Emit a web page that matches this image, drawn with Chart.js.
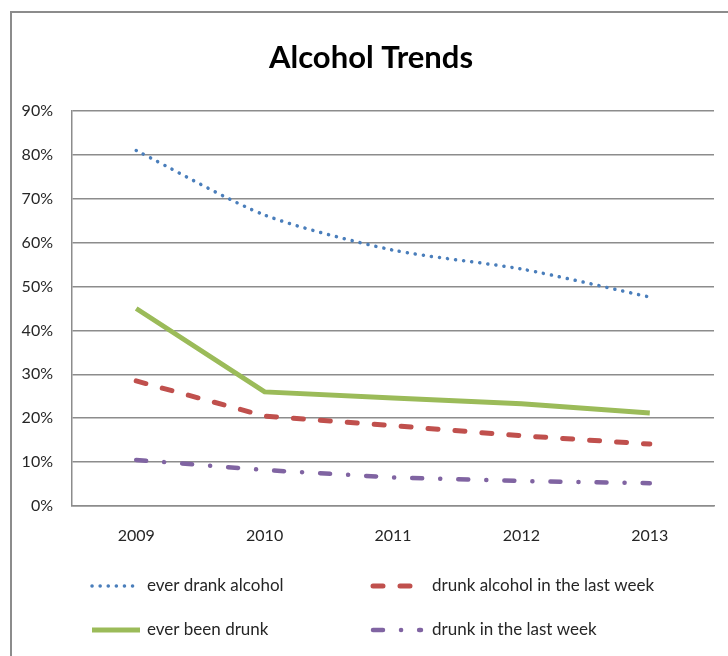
<!DOCTYPE html>
<html>
<head>
<meta charset="utf-8">
<script src="https://cdn.jsdelivr.net/npm/chart.js@4"></script>
<style>
  html, body { margin: 0; padding: 0; background: #fff; }
  #frame {
    position: absolute; left: 10px; top: 11px;
    width: 716px; height: 643px;
    border-left: 2px solid #8c8c8c; border-top: 2px solid #8c8c8c;
  }
  #wrap { position: relative; width: 716px; height: 643px; }
</style>
</head>
<body>
<div id="frame"><div id="wrap"><canvas id="alcoholChart"></canvas></div></div>
<script>
// Data
const years = ['2009', '2010', '2011', '2012', '2013'];
const everDrank = [81, 66.3, 58.3, 54, 47.6];
const drunkAlcoholLastWeek = [28.5, 20.5, 18.3, 16, 14.1];
const everBeenDrunk = [45, 26, 24.6, 23.3, 21.2];
const drunkLastWeek = [10.5, 8.2, 6.5, 5.7, 5.2];
const yTicks = [0, 10, 20, 30, 40, 50, 60, 70, 80, 90];
const chartTitle = 'Alcohol Trends';

const FONT = "Lato, 'Open Sans', sans-serif";

// Title centred on the whole frame, not on the padded chart box
const frameTitle = {
  id: 'frameTitle',
  afterDraw(chart) {
    const ctx = chart.ctx;
    ctx.save();
    ctx.fillStyle = '#000';
    ctx.font = 'bold 31px ' + FONT;
    ctx.textAlign = 'center';
    ctx.textBaseline = 'middle';
    ctx.fillText(chartTitle, chart.width / 2 + 1, 45);
    ctx.restore();
  }
};

// Two-column legend drawn under the plot, like the original
const gridLegend = {
  id: 'gridLegend',
  afterDraw(chart) {
    const ctx = chart.ctx;
    const cols = [{ x: 80, tx: 135 }, { x: 361, tx: 420 }];
    const rows = [573, 617];
    chart.data.datasets.forEach(function(ds, i) {
      const c = cols[i % 2];
      const y = rows[Math.floor(i / 2)];
      ctx.save();
      ctx.strokeStyle = ds.borderColor;
      ctx.lineWidth = ds.borderWidth;
      ctx.lineCap = ds.borderCapStyle || 'butt';
      ctx.setLineDash(ds.borderDash || []);
      ctx.beginPath();
      ctx.moveTo(c.x, y);
      ctx.lineTo(c.x + 48, y);
      ctx.stroke();
      ctx.setLineDash([]);
      ctx.fillStyle = '#262626';
      ctx.font = '17px ' + FONT;
      ctx.textBaseline = 'middle';
      ctx.fillText(ds.label, c.tx, y);
      ctx.restore();
    });
  }
};

const ctx = document.getElementById('alcoholChart').getContext('2d');

new Chart(ctx, {
  type: 'line',
  data: {
    labels: years,
    datasets: [
      {
        label: 'ever drank alcohol',
        data: everDrank,
        borderColor: '#4a7ebb',
        borderWidth: 3.5,
        borderDash: [0.1, 8],
        borderCapStyle: 'round',
        tension: 0.25,
        pointRadius: 0
      },
      {
        label: 'drunk alcohol in the last week',
        data: drunkAlcoholLastWeek,
        borderColor: '#c0504d',
        borderWidth: 5,
        borderDash: [10, 17],
        borderCapStyle: 'round',
        tension: 0,
        pointRadius: 0
      },
      {
        label: 'ever been drunk',
        data: everBeenDrunk,
        borderColor: '#9bbb59',
        borderWidth: 5,
        tension: 0,
        pointRadius: 0
      },
      {
        label: 'drunk in the last week',
        data: drunkLastWeek,
        borderColor: '#8064a2',
        borderWidth: 4.5,
        borderDash: [10, 18, 0.1, 18],
        borderCapStyle: 'round',
        tension: 0,
        pointRadius: 0
      }
    ]
  },
  options: {
    responsive: true,
    maintainAspectRatio: false,
    animation: false,
    layout: {
      padding: { top: 98, left: 0, right: 14, bottom: 110 }
    },
    plugins: {
      legend: { display: false },
      tooltip: { enabled: false },
      title: { display: false }
    },
    scales: {
      x: {
        offset: true,
        grid: { display: false, drawTicks: false, offset: true },
        border: { display: true, color: '#8c8c8c', width: 1.5 },
        ticks: {
          color: '#262626',
          padding: 20,
          font: { family: FONT, size: 16 }
        },
        afterFit: function(scale) { scale.height = 40; }
      },
      y: {
        min: 0,
        max: 90,
        afterBuildTicks: function(scale) {
          scale.ticks = yTicks.map(function(v) { return { value: v }; });
        },
        grid: { color: '#8c8c8c', lineWidth: 1.5, drawTicks: false },
        border: { display: true, color: '#8c8c8c', width: 1.5 },
        ticks: {
          color: '#262626',
          padding: 19,
          font: { family: FONT, size: 16 },
          callback: function(v) { return v + '%'; }
        },
        afterFit: function(scale) { scale.width = 60; }
      }
    }
  },
  plugins: [frameTitle, gridLegend]
});
</script>
</body>
</html>
